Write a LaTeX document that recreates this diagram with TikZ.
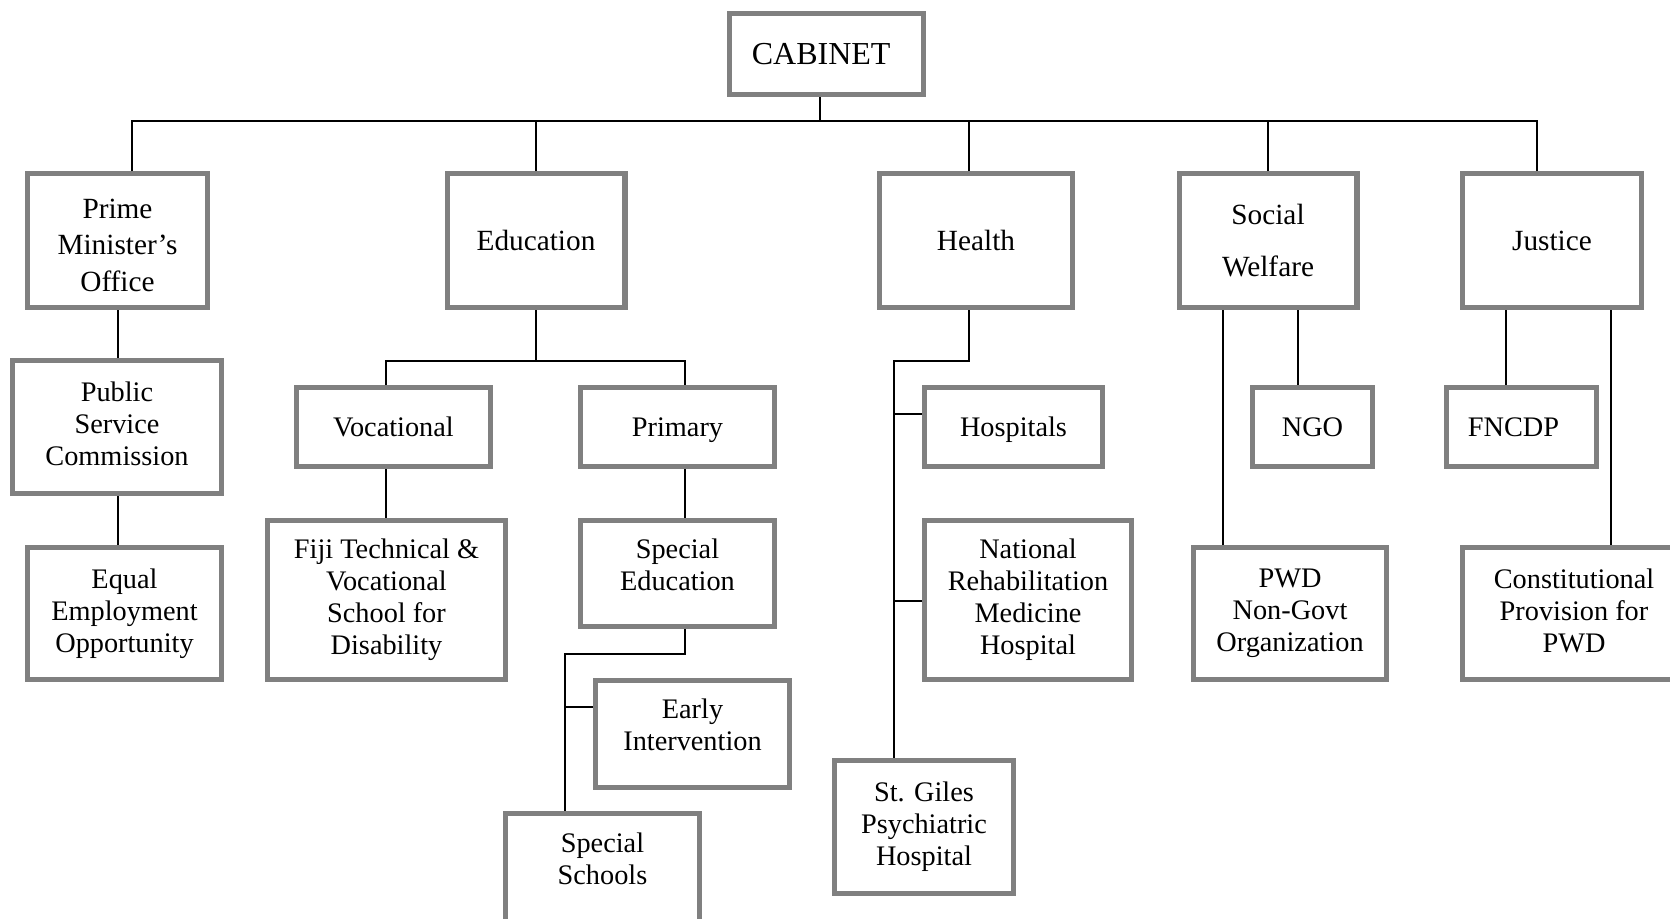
\documentclass[tikz,border=0pt]{standalone}
\usepackage{fontspec}
\setmainfont{Liberation Serif}
\definecolor{boxgray}{RGB}{128,128,128}
\tikzset{
  box/.style={draw=boxgray, line width=5.4pt, fill=white, inner sep=0pt, align=center,
    font=\fontsize{28.3}{32}\selectfont},
  topbox/.style={box, font=\fontsize{29.3}{36.7}\selectfont},
  onebox/.style={box, text depth=0pt},
  wire/.style={line width=1.7pt, black},
}
\begin{document}
\begin{tikzpicture}[x=1pt,y=-1pt]
\useasboundingbox (0,0) rectangle (1670,918);
\clip (0,0) rectangle (1670,918);
% level 0
\node[box, font=\fontsize{32}{36}\selectfont, minimum width=193.6pt, minimum height=80.6pt] (cab) at (826.5,54) {\hspace*{-10.6pt}CABINET};
% level 1
\node[topbox, minimum width=179.6pt, minimum height=133.6pt] (pm) at (117.5,240.5) {\rule{0pt}{29pt}Prime\\Minister's\\Office};
\node[topbox, minimum width=177.6pt, minimum height=133.6pt] (edu) at (536,240.5) {Education};
\node[topbox, minimum width=192.6pt, minimum height=133.6pt] (health) at (976,240.5) {Health};
\node[topbox, minimum width=177.6pt, minimum height=133.6pt] (sw) at (1268,240.5) {Social\\[16pt]Welfare};
\node[topbox, minimum width=178.6pt, minimum height=133.6pt] (justice) at (1552,240.5) {Justice};
% level 2
\node[box, minimum width=208.6pt, minimum height=132.6pt] (psc) at (117,427) {Public\\Service\\Commission\vphantom{y}};
\node[onebox, minimum width=193.6pt, minimum height=78.6pt] (voc) at (393.5,427) {Vocational};
\node[onebox, minimum width=193.6pt, minimum height=78.6pt] (prim) at (677.5,427) {Primary};
\node[onebox, minimum width=177.6pt, minimum height=78.6pt] (hosp) at (1013.5,427) {Hospitals};
\node[onebox, minimum width=119.6pt, minimum height=78.6pt] (ngo) at (1312.5,427) {NGO};
\node[onebox, minimum width=149.6pt, minimum height=78.6pt] (fncdp) at (1521.5,427) {\hspace*{-16pt}FNCDP};
% level 3
\node[box, minimum width=193.6pt, minimum height=131.6pt] (eeo) at (124.5,613.5) {Equal\\Employment\\Opportunity};
\node[box, minimum width=237.6pt, minimum height=158.6pt] (fiji) at (386.5,600) {Fiji Technical \&\\Vocational\\School for\\Disability};
\node[box, minimum width=193.6pt, minimum height=105.6pt] (sped) at (677.5,573.5) {Special\\Education\\[-14pt]};
\node[box, minimum width=206.6pt, minimum height=158.6pt] (nrmh) at (1028,600) {National\\Rehabilitation\\Medicine\\Hospital};
\node[box, minimum width=192.6pt, minimum height=131.6pt] (pwd) at (1290,613.5) {PWD\\Non-Govt\\Organization};
\node[box, minimum width=222.6pt, minimum height=131.6pt] (const) at (1574,613.5) {Constitutional\\Provision for\\PWD\vphantom{y}};
% level 4
\node[box, minimum width=193.6pt, minimum height=106.6pt] (ei) at (692.5,734) {Early\\Intervention\\[-14pt]};
\node[box, minimum width=193.6pt, minimum height=108.6pt] (ss) at (602.5,868) {Special\\Schools\\[-14pt]};
\node[box, minimum width=178.6pt, minimum height=132.6pt] (sg) at (924,827) {St. Giles\\Psychiatric\\Hospital};
% connectors: top bus
\coordinate (bus) at (826.5,121);
\draw[wire] ([xshift=14.5pt]pm.north) |- (bus) -| ([xshift=-15pt]justice.north);
\draw[wire] ([xshift=-6.5pt]cab.south) -- ([xshift=-6.5pt]cab.south |- bus);
\draw[wire] (edu.north) -- (edu.north |- bus);
\draw[wire] ([xshift=-7pt]health.north) -- ([xshift=-7pt]health.north |- bus);
\draw[wire] (sw.north) -- (sw.north |- bus);
% PM branch
\draw[wire] ([xshift=0.5pt]pm.south) -- ([xshift=0.5pt]pm.south |- psc.north);
\draw[wire] ([xshift=0.5pt]pm.south |- psc.south) -- ([xshift=0.5pt]pm.south |- eeo.north);
% Education branch
\coordinate (eb) at (536,361);
\draw[wire] (edu.south) -- (eb);
\draw[wire] ([xshift=-7.5pt]voc.north) |- (eb) -| ([xshift=7.5pt]prim.north);
\draw[wire] ([xshift=-7.5pt]voc.south) -- ([xshift=-7.5pt]voc.south |- fiji.north);
\draw[wire] ([xshift=7.5pt]prim.south) -- ([xshift=7.5pt]prim.south |- sped.north);
\coordinate (sej) at (565,654);
\draw[wire] ([xshift=7.5pt]sped.south) |- (sej) -- (sej |- ss.north);
\coordinate (eib) at (565,707);
\draw[wire] (eib) -- (eib -| ei.west);
% Health branch
\coordinate (hj) at (894,361);
\draw[wire] ([xshift=-7pt]health.south) |- (hj) -- (hj |- sg.north);
\coordinate (hb1) at (894,414);
\draw[wire] (hb1) -- (hb1 -| hosp.west);
\coordinate (hb2) at (894,601);
\draw[wire] (hb2) -- (hb2 -| nrmh.west);
% Social Welfare branch
\draw[wire] ([xshift=-45pt]sw.south) -- ([xshift=-45pt]sw.south |- pwd.north);
\draw[wire] ([xshift=30pt]sw.south) -- ([xshift=30pt]sw.south |- ngo.north);
% Justice branch
\draw[wire] ([xshift=-46pt]justice.south) -- ([xshift=-46pt]justice.south |- fncdp.north);
\draw[wire] ([xshift=59pt]justice.south) -- ([xshift=59pt]justice.south |- const.north);
\end{tikzpicture}
\end{document}
